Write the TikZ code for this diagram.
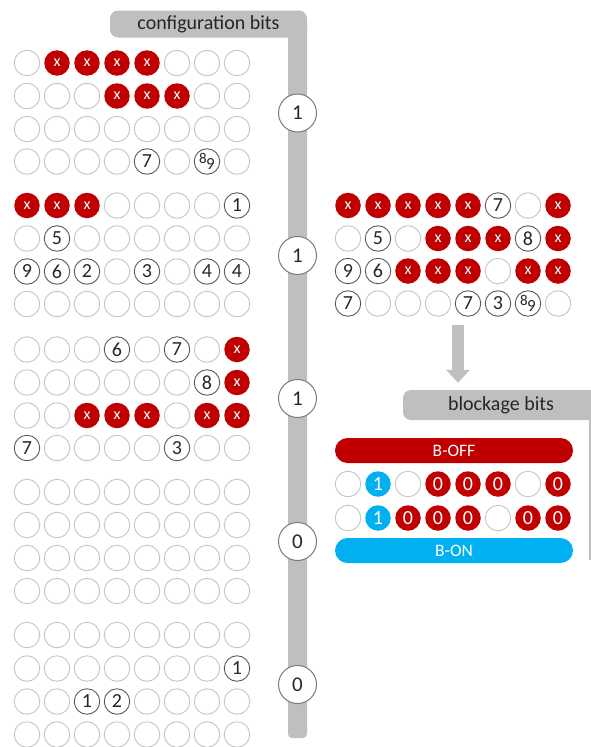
\documentclass[tikz,border=0pt]{standalone}
\usepackage{fontspec}
\setmainfont{Carlito}
\usetikzlibrary{arrows.meta}

\definecolor{bitred}{HTML}{C00000}
\definecolor{bitblue}{HTML}{00B0F0}
\definecolor{bargray}{HTML}{BFBFBF}
\definecolor{emptygray}{HTML}{C4C4C4}
\definecolor{numgray}{HTML}{595959}
\definecolor{txtgray}{HTML}{262626}

\tikzset{
  bit/.style={circle, minimum size=25.5pt, inner sep=0pt, line width=0.9pt,
              font=\fontsize{20}{20}\selectfont},
  cE/.style={bit, draw=emptygray},
  cN/.style={bit, draw=numgray, text=txtgray},
  cX/.style={bit, fill=bitred, text=white, font=\fontsize{16}{16}\selectfont},
  cZ/.style={bit, fill=bitred, text=white},
  cB/.style={bit, fill=bitblue, text=white},
  barbit/.style={circle, minimum size=38pt, inner sep=0pt, line width=1pt,
                 draw=numgray!80, fill=white, text=txtgray, font=\fontsize{21}{21}\selectfont},
  headbox/.style={rectangle, rounded corners=8pt, fill=bargray, inner sep=0pt,
                  text=txtgray, font=\fontsize{20}{20}\selectfont},
  pill/.style={rectangle, rounded corners=12.5pt, minimum width=238pt, minimum height=25pt,
               inner sep=0pt, text=white, font=\fontsize{17.5}{17.5}\selectfont},
  bigarrow/.style={bargray, line width=12pt, -{Triangle[width=23pt,length=13pt]}}
}

% the small raised 8 with a lowered 9
\newcommand{\eightnine}{\raisebox{3pt}{\fontsize{15}{15}\selectfont 8}\kern-0.5pt\raisebox{-3pt}{\fontsize{17}{17}\selectfont 9}}

% one row of eight bits: name, first x, y, list of style/label
\newcommand{\bitrow}[4]{%
  \foreach \s/\t [count=\i] in {#4} {
    \node[\s] (#1-\i) at ({#2+30*(\i-1)},#3) {\t};
  }%
}

\begin{document}
\begin{tikzpicture}[x=1pt, y=-1pt]
  \useasboundingbox (0,0) rectangle (591,747);
  \clip (0,0) rectangle (591,747);

  % configuration bits bar
  \node[headbox, minimum width=197pt, minimum height=27pt] (cfg) at (208.5,24) {configuration bits};
  \fill[bargray, rounded corners=4pt] (288,20) rectangle (307,738);

  % block 1
  \bitrow{a1}{27}{63}{cE/{},cX/x,cX/x,cX/x,cX/x,cE/{},cE/{},cE/{}}
  \bitrow{a2}{27}{96}{cE/{},cE/{},cE/{},cX/x,cX/x,cX/x,cE/{},cE/{}}
  \bitrow{a3}{27}{129}{cE/{},cE/{},cE/{},cE/{},cE/{},cE/{},cE/{},cE/{}}
  \bitrow{a4}{27}{161.5}{cE/{},cE/{},cE/{},cE/{},cN/7,cE/{},cN/\eightnine,cE/{}}

  % block 2
  \bitrow{b1}{27}{205.5}{cX/x,cX/x,cX/x,cE/{},cE/{},cE/{},cE/{},cN/1}
  \bitrow{b2}{27}{238.5}{cE/{},cN/5,cE/{},cE/{},cE/{},cE/{},cE/{},cE/{}}
  \bitrow{b3}{27}{271.5}{cN/9,cN/6,cN/2,cE/{},cN/3,cE/{},cN/4,cN/4}
  \bitrow{b4}{27}{304}{cE/{},cE/{},cE/{},cE/{},cE/{},cE/{},cE/{},cE/{}}

  % block 3
  \bitrow{c1}{27}{349.5}{cE/{},cE/{},cE/{},cN/6,cE/{},cN/7,cE/{},cX/x}
  \bitrow{c2}{27}{382.5}{cE/{},cE/{},cE/{},cE/{},cE/{},cE/{},cN/8,cX/x}
  \bitrow{c3}{27}{415.5}{cE/{},cE/{},cX/x,cX/x,cX/x,cE/{},cX/x,cX/x}
  \bitrow{c4}{27}{448}{cN/7,cE/{},cE/{},cE/{},cE/{},cN/3,cE/{},cE/{}}

  % block 4
  \bitrow{d1}{27}{492}{cE/{},cE/{},cE/{},cE/{},cE/{},cE/{},cE/{},cE/{}}
  \bitrow{d2}{27}{525}{cE/{},cE/{},cE/{},cE/{},cE/{},cE/{},cE/{},cE/{}}
  \bitrow{d3}{27}{558}{cE/{},cE/{},cE/{},cE/{},cE/{},cE/{},cE/{},cE/{}}
  \bitrow{d4}{27}{591}{cE/{},cE/{},cE/{},cE/{},cE/{},cE/{},cE/{},cE/{}}

  % block 5
  \bitrow{e1}{27}{635}{cE/{},cE/{},cE/{},cE/{},cE/{},cE/{},cE/{},cE/{}}
  \bitrow{e2}{27}{668.5}{cE/{},cE/{},cE/{},cE/{},cE/{},cE/{},cE/{},cN/1}
  \bitrow{e3}{27}{701.5}{cE/{},cE/{},cN/1,cN/2,cE/{},cE/{},cE/{},cE/{}}
  \bitrow{e4}{27}{734.5}{cE/{},cE/{},cE/{},cE/{},cE/{},cE/{},cE/{},cE/{}}

  % one configuration bit per block
  \node[barbit] (cb1) at (297.5,113) {1};
  \node[barbit] (cb2) at (297.5,255.5) {1};
  \node[barbit] (cb3) at (297.5,398.5) {1};
  \node[barbit] (cb4) at (297.5,541.5) {0};
  \node[barbit] (cb5) at (297.5,684.5) {0};

  % merged result
  \bitrow{r1}{348}{205.5}{cX/x,cX/x,cX/x,cX/x,cX/x,cN/7,cE/{},cX/x}
  \bitrow{r2}{348}{238.5}{cE/{},cN/5,cE/{},cX/x,cX/x,cX/x,cN/8,cX/x}
  \bitrow{r3}{348}{271}{cN/9,cN/6,cX/x,cX/x,cX/x,cE/{},cX/x,cX/x}
  \bitrow{r4}{348}{303.5}{cN/7,cE/{},cE/{},cE/{},cN/7,cN/3,cN/\eightnine,cE/{}}

  % blockage bits
  \node[headbox, minimum width=196pt, minimum height=30pt] (blk) at (501,405) {blockage bits};
  \fill[bargray] (589,405) rectangle (600,560);

  \coordinate (arrtop) at (458,325);
  \draw[bigarrow, shorten >=7pt] (arrtop) -- (arrtop |- blk.north);

  \node[pill, fill=bitred] (boff) at (454,450.5) {B-OFF};
  \bitrow{s1}{348}{484}{cE/{},cB/1,cE/{},cZ/0,cZ/0,cZ/0,cE/{},cZ/0}
  \bitrow{s2}{348}{518}{cE/{},cB/1,cZ/0,cZ/0,cZ/0,cE/{},cZ/0,cZ/0}
  \node[pill, fill=bitblue] (bon) at (454,550.5) {B-ON};
\end{tikzpicture}
\end{document}
